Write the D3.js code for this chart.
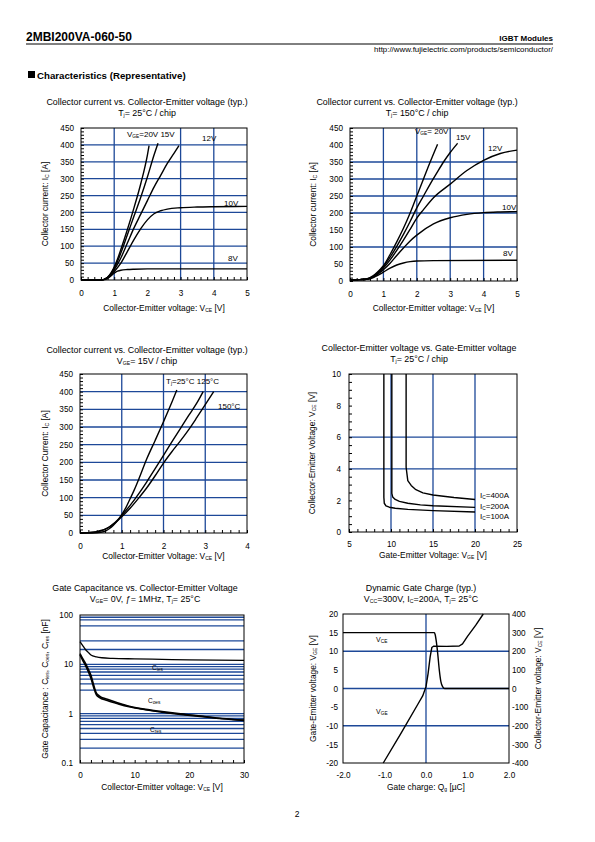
<!DOCTYPE html>
<html><head><meta charset="utf-8">
<script src="https://cdn.jsdelivr.net/npm/d3@7/dist/d3.min.js"></script>
<style>
body{margin:0;background:#fff}
svg{display:block}
text{font-family:"Liberation Sans",Arial,Helvetica,sans-serif;fill:#000}
</style>
</head><body>
<svg id="page" width="595" height="842"></svg>
<script>
// ---------------- DATA ----------------
// Chart 1: Ic vs Vce, Tj=25°C (x: Vce [V], y: Ic [A])
const c1_vge20 = [[0,0],[0.6,0],[0.7,2],[0.8,8],[0.9,20],[1.0,38],[1.1,62],[1.2,90],[1.4,150],[1.6,215],[1.8,285],[2.0,370],[2.05,398]];
const c1_vge15 = [[0,0],[0.6,0],[0.7,2],[0.8,8],[0.9,19],[1.0,35],[1.1,55],[1.2,80],[1.4,135],[1.6,190],[1.8,245],[2.0,305],[2.2,370],[2.32,405]];
const c1_vge12 = [[0,0],[0.6,0],[0.7,2],[0.8,7],[0.9,17],[1.0,30],[1.2,65],[1.4,110],[1.6,155],[1.8,195],[2.0,235],[2.2,275],[2.4,310],[2.6,345],[2.8,375],[2.95,398]];
const c1_vge10 = [[0,0],[0.6,0],[0.7,2],[0.8,6],[0.9,14],[1.0,25],[1.2,50],[1.4,85],[1.6,120],[1.8,152],[2.0,178],[2.2,196],[2.4,205],[2.6,210],[3.0,214],[3.5,216],[4.0,217],[5.0,218]];
const c1_vge8  = [[0,0],[0.6,0],[0.7,1],[0.8,5],[0.9,12],[1.0,20],[1.1,26],[1.2,29],[1.4,31],[1.6,32],[2.0,33],[5.0,33]];
const c1_xTicks = [0,1,2,3,4,5];
const c1_yTicks = [0,50,100,150,200,250,300,350,400,450];

// Chart 2: Ic vs Vce, Tj=150°C
const c2_vge20 = [[0,3],[0.3,4],[0.5,6],[0.6,10],[0.7,16],[0.8,24],[0.9,34],[1.0,45],[1.2,78],[1.4,115],[1.6,155],[1.8,200],[2.0,250],[2.2,300],[2.4,350],[2.62,402]];
const c2_vge15 = [[0,3],[0.3,4],[0.5,6],[0.6,9],[0.7,14],[0.8,22],[0.9,31],[1.0,42],[1.2,70],[1.4,102],[1.6,137],[1.8,175],[2.0,215],[2.2,250],[2.4,285],[2.6,318],[2.8,350],[3.0,378],[3.22,405]];
const c2_vge12 = [[0,3],[0.3,4],[0.5,5],[0.7,13],[0.8,20],[0.9,28],[1.0,38],[1.2,62],[1.4,90],[1.6,120],[1.8,152],[2.0,185],[2.2,210],[2.5,245],[3.0,285],[3.5,325],[4.0,355],[4.5,375],[5.0,385]];
const c2_vge10 = [[0,3],[0.3,4],[0.5,5],[0.7,12],[0.8,18],[0.9,25],[1.0,33],[1.2,52],[1.4,75],[1.6,97],[1.8,118],[2.0,135],[2.5,168],[3.0,186],[3.5,196],[4.0,201],[4.5,203],[5.0,204]];
const c2_vge8  = [[0,3],[0.3,4],[0.5,5],[0.7,10],[0.8,15],[0.9,20],[1.0,26],[1.2,38],[1.4,47],[1.6,53],[1.8,57],[2.0,59],[2.5,60],[5.0,61]];
const c2_xTicks = [0,1,2,3,4,5];
const c2_yTicks = [0,50,100,150,200,250,300,350,400,450];

// Chart 3: Ic vs Vce, Vge=15V
const c3_tj25  = [[0,0],[0.3,0],[0.5,2],[0.6,5],[0.7,12],[0.8,22],[0.9,35],[1.0,52],[1.1,72],[1.2,97],[1.3,122],[1.4,150],[1.6,210],[1.8,262],[2.0,315],[2.2,370],[2.32,405]];
const c3_tj125 = [[0,0],[0.2,1],[0.4,3],[0.5,6],[0.6,10],[0.7,17],[0.8,26],[0.9,37],[1.0,50],[1.2,78],[1.4,110],[1.6,145],[1.8,182],[2.0,220],[2.2,258],[2.4,295],[2.6,332],[2.8,368],[2.95,400]];
const c3_tj150 = [[0,0],[0.2,1],[0.4,4],[0.5,7],[0.6,11],[0.7,17],[0.8,25],[0.9,35],[1.0,46],[1.2,70],[1.4,98],[1.6,128],[1.8,162],[2.0,198],[2.2,230],[2.4,260],[2.6,292],[2.8,327],[3.0,363],[3.2,400]];
const c3_xTicks = [0,1,2,3,4];
const c3_yTicks = [0,50,100,150,200,250,300,350,400,450];

// Chart 4: Vce vs Vge, Tj=25°C
const c4_ic100 = [[9.15,10],[9.15,2.2],[9.2,1.82],[9.4,1.66],[9.8,1.57],[10.5,1.5],[12,1.43],[15,1.35],[20,1.27]];
const c4_ic200 = [[10.1,10],[10.1,2.45],[10.2,2.22],[10.5,2.06],[11,1.94],[12,1.82],[13.5,1.72],[15,1.66],[20,1.56]];
const c4_ic400 = [[11.8,10],[11.8,4.1],[12.0,3.25],[12.4,2.95],[12.9,2.7],[13.8,2.48],[15,2.34],[17.5,2.18],[20,2.06]];
const c4_xTicks = [5,10,15,20,25];
const c4_yTicks = [0,2,4,6,8,10];

// Chart 5: Capacitance vs Vce (log y)
const c5_cies = [[0,29],[0.5,24],[1,20],[1.5,17.5],[2,15.5],[3,14.2],[4,13.6],[6,13.2],[10,12.9],[15,12.6],[20,12.3],[30,12.0]];
const c5_coes = [[0,16.5],[0.5,13],[1,10.5],[1.5,8],[2,6],[2.5,3.8],[3,2.6],[3.5,2.3],[5,1.95],[7,1.65],[9,1.42],[12,1.22],[15,1.1],[18,1.0],[22,0.9],[26,0.8],[30,0.74]];
const c5_cres = [[0,15.5],[0.5,12],[1,9.5],[1.5,7.2],[2,5.2],[2.5,3.4],[3,2.4],[3.5,2.15],[5,1.85],[7,1.58],[9,1.38],[12,1.2],[15,1.07],[18,0.98],[22,0.88],[26,0.79],[30,0.73]];
const c5_xTicks = [0,10,20,30];
const c5_yTicks = [0.1,1,10,100];
const c5_hGrid = [0.2,0.3,0.4,0.5,0.6,0.7,0.8,0.9,1,3,4,5,6,7,8,9,10,20,30,60,80,90];

// Chart 6: Dynamic gate charge (x: Qg [µC], left: Vge [V], right: Vce [V])
const c6_vge = [[-1.03,-20],[-0.6,-12],[-0.2,-4.3],[-0.08,-2],[0.0,0.5],[0.05,4],[0.1,8.5],[0.14,11],[0.18,11.35],[0.5,11.3],[0.8,11.4],[0.88,12],[1.0,14],[1.2,17],[1.38,20]];
const c6_vce = [[-2.0,300],[0.2,300],[0.22,290],[0.25,250],[0.28,193],[0.32,100],[0.36,35],[0.4,10],[0.45,0],[2.0,0]];
const c6_xTicks = [-2,-1,0,1,2];
const c6_yTicks = [-20,-15,-10,-5,0,5,10,15,20];
const c6_yRTicks = [-400,-300,-200,-100,0,100,200,300,400];

// ---------------- DRAWING ----------------
const svg = d3.select("#page");
const GRID = "#1d4898";
const TICK_FS = 8.2, TITLE_FS = 8.9, AXIS_FS = 8.4, NOTE_FS = 8;
const hy = s => String(s).replace(/\u2212/g, "-");

function rich(sel, str, sub) {
  const parts = str.split(/(_\{[^}]*\})/);
  let shifted = false;
  parts.forEach(p => {
    if (!p) return;
    const m = p.match(/^_\{([^}]*)\}$/);
    if (m) {
      sel.append("tspan").attr("font-size", sub).attr("dy", 1.3).text(m[1]);
      shifted = true;
    } else {
      const t = sel.append("tspan").text(p);
      if (shifted) { t.attr("dy", -1.3); shifted = false; }
    }
  });
  return sel;
}

function txt(x, y, str, size, anchor, opts = {}) {
  const t = svg.append("text").attr("x", x).attr("y", y)
    .attr("font-size", size).attr("text-anchor", anchor || "start");
  if (opts.bold) t.attr("font-weight", "bold");
  if (opts.rot) t.attr("transform", `rotate(-90,${x},${y})`);
  return rich(t, str, opts.sub || size * 0.6);
}

function chart(c) {
  const g = svg.append("g");
  const x = d3.scaleLinear().domain(c.xDomain).range([c.left, c.right]);
  const y = (c.log ? d3.scaleLog() : d3.scaleLinear()).domain(c.yDomain).range([c.bottom, c.top]);

  // grid
  g.selectAll(null).data(c.vGrid || []).join("line")
    .attr("x1", d => x(d)).attr("x2", d => x(d)).attr("y1", c.top).attr("y2", c.bottom)
    .attr("stroke", GRID).attr("stroke-width", 1.3);
  g.selectAll(null).data(c.hGrid || []).join("line")
    .attr("y1", d => y(d)).attr("y2", d => y(d)).attr("x1", c.left).attr("x2", c.right)
    .attr("stroke", GRID).attr("stroke-width", 1.3);

  // inward ticks
  if (c.xMinor) {
    const ax = g.append("g").attr("transform", `translate(0,${c.bottom})`)
      .call(d3.axisBottom(x).tickValues(c.xMinor).tickSize(-3).tickFormat(""));
    ax.select(".domain").remove();
    ax.selectAll("line").attr("stroke", "#000").attr("stroke-width", 1);
  }
  if (c.yMinor) {
    const ay = g.append("g").attr("transform", `translate(${c.left},0)`)
      .call(d3.axisLeft(y).tickValues(c.yMinor).tickSize(-3).tickFormat(""));
    ay.select(".domain").remove();
    ay.selectAll("line").attr("stroke", "#000").attr("stroke-width", 1);
  }

  // tick labels
  const fx = c.xFmt || (d => d), fy = c.yFmt || (d => d);
  const axB = g.append("g").attr("transform", `translate(0,${c.bottom})`)
    .call(d3.axisBottom(x).tickValues(c.xTicks).tickSize(0).tickPadding(c.xPad || 8).tickFormat(d => hy(fx(d))));
  axB.select(".domain").remove();
  axB.selectAll("text").attr("font-size", TICK_FS).attr("font-family", null).attr("fill", "#000");
  const axL = g.append("g").attr("transform", `translate(${c.left},0)`)
    .call(d3.axisLeft(y).tickValues(c.yTicks).tickSize(0).tickPadding(c.yPad || 7).tickFormat(d => hy(fy(d))));
  axL.select(".domain").remove();
  axL.selectAll("text").attr("font-size", TICK_FS).attr("font-family", null).attr("fill", "#000");
  if (c.yRDomain) {
    const yR = d3.scaleLinear().domain(c.yRDomain).range([c.bottom, c.top]);
    const axR = g.append("g").attr("transform", `translate(${c.right},0)`)
      .call(d3.axisRight(yR).tickValues(c.yRTicks).tickSize(0).tickPadding(3).tickFormat(d => hy(d)));
    axR.select(".domain").remove();
    axR.selectAll("text").attr("font-size", TICK_FS).attr("font-family", null).attr("fill", "#000");
    c.yR = yR;
  }

  // frame
  g.append("rect").attr("x", c.left).attr("y", c.top)
    .attr("width", c.right - c.left).attr("height", c.bottom - c.top)
    .attr("fill", "none").attr("stroke", "#000").attr("stroke-width", 1);

  // curves
  (c.series || []).forEach(s => {
    const ys = s.right ? c.yR : y;
    const line = d3.line().x(d => x(d[0])).y(d => ys(d[1])).curve(s.curve || d3.curveMonotoneX);
    g.append("path").attr("d", line(s.data)).attr("fill", "none")
      .attr("stroke", s.color || "#000").attr("stroke-width", s.w || 1.4)
      .attr("stroke-linejoin", "round");
  });

  // titles
  txt(c.tx, c.t1y, c.title1, TITLE_FS, "middle");
  txt(c.tx, c.t1y + 11, c.title2, TITLE_FS, "middle", {sub: 5.2});
  txt((c.left + c.right) / 2, c.xly, c.xLabel, AXIS_FS, "middle", {sub: 5});
  txt(c.ylx, (c.top + c.bottom) / 2, c.yLabel, AXIS_FS, "middle", {rot: true, sub: 5});
  if (c.yRLabel) txt(c.yrlx, (c.top + c.bottom) / 2, c.yRLabel, AXIS_FS, "middle", {rot: true, sub: 5});
  (c.notes || []).forEach(n => txt(n[0], n[1], n[2], n[3] || NOTE_FS, "start", {sub: 4.8}));
}

const range = (a, b, s) => d3.range(a, b + s / 2, s);

// header
txt(26, 41, "2MBI200VA-060-50", 12, "start", {bold: true});
svg.append("line").attr("x1", 26).attr("x2", 553).attr("y1", 44).attr("y2", 44).attr("stroke", "#000").attr("stroke-width", 1);
txt(553, 41, "IGBT Modules", 8, "end", {bold: true});
txt(553, 52, "http://www.fujielectric.com/products/semiconductor/", 7.9, "end");
svg.append("rect").attr("x", 28).attr("y", 71).attr("width", 7).attr("height", 7).attr("fill", "#000");
txt(37, 79, "Characteristics (Representative)", 9.7, "start", {bold: true});
txt(297, 817, "2", 8.5, "middle");

chart({
  left: 81, right: 247, top: 128, bottom: 280,
  xDomain: [0, 5], yDomain: [0, 450], xTicks: c1_xTicks, yTicks: c1_yTicks,
  vGrid: [1, 3, 4], hGrid: [50, 100, 150, 200, 250, 300, 350, 400],
  xMinor: range(0, 5, 0.2), yMinor: range(0, 450, 10),
  tx: 147, t1y: 105, title1: "Collector current vs. Collector-Emitter voltage (typ.)",
  title2: "T_{j}= 25°C / chip",
  xly: 311, xLabel: "Collector-Emitter voltage: V_{CE} [V]",
  ylx: 48, yLabel: "Collector current: I_{C} [A]",
  xPad: 10, yPad: 7,
  series: [{data: c1_vge20}, {data: c1_vge15}, {data: c1_vge12}, {data: c1_vge10}, {data: c1_vge8}],
  notes: [[127, 137, "V_{GE}=20V 15V"], [202, 141, "12V"], [224, 206, "10V"], [228, 261, "8V"]]
});

chart({
  left: 350, right: 517, top: 128, bottom: 281,
  xDomain: [0, 5], yDomain: [0, 450], xTicks: c2_xTicks, yTicks: c2_yTicks,
  vGrid: [1, 2, 3, 4], hGrid: [100, 200, 250, 300, 350],
  xMinor: range(0, 5, 0.2), yMinor: range(0, 450, 10),
  tx: 417, t1y: 104.5, title1: "Collector current vs. Collector-Emitter voltage (typ.)",
  title2: "T_{j}= 150°C / chip",
  xly: 311, xLabel: "Collector-Emitter voltage: V_{CE} [V]",
  ylx: 316, yLabel: "Collector current: I_{C} [A]",
  xPad: 10, yPad: 7,
  series: [{data: c2_vge20}, {data: c2_vge15}, {data: c2_vge12}, {data: c2_vge10}, {data: c2_vge8}],
  notes: [[415, 134, "V_{GE}= 20V"], [456, 140, "15V"], [488, 151, "12V"], [502, 210, "10V"], [503, 256, "8V"]]
});

chart({
  left: 80, right: 247, top: 374, bottom: 533,
  xDomain: [0, 4], yDomain: [0, 450], xTicks: c3_xTicks, yTicks: c3_yTicks,
  vGrid: [1, 2, 3], hGrid: [50, 100, 150, 200, 250, 300, 350, 400],
  xMinor: range(0, 4, 0.2), yMinor: range(0, 450, 10),
  tx: 147, t1y: 352.5, title1: "Collector current vs. Collector-Emitter voltage (typ.)",
  title2: "V_{GE}= 15V / chip",
  xly: 558.5, xLabel: "Collector-Emitter Voltage: V_{CE} [V]",
  ylx: 48, yLabel: "Collector Current: I_{C} [A]",
  xPad: 10, yPad: 7,
  series: [{data: c3_tj25}, {data: c3_tj125}, {data: c3_tj150}],
  notes: [[166, 384, "T_{j}=25°C 125°C"], [218, 409, "150°C"]]
});

chart({
  left: 349, right: 517, top: 374, bottom: 532,
  xDomain: [5, 25], yDomain: [0, 10], xTicks: c4_xTicks, yTicks: c4_yTicks,
  vGrid: [10, 15, 20], hGrid: [4, 6],
  xMinor: range(5, 25, 1), yMinor: range(0, 10, 0.5),
  tx: 419, t1y: 350.5, title1: "Collector-Emitter voltage  vs. Gate-Emitter voltage",
  title2: "T_{j}= 25°C / chip",
  xly: 558, xLabel: "Gate-Emitter Voltage: V_{GE} [V]",
  ylx: 315, yLabel: "Collector-Emitter Voltage: V_{CE} [V]",
  xPad: 9, yPad: 8,
  series: [{data: c4_ic100, curve: d3.curveLinear}, {data: c4_ic200, curve: d3.curveLinear}, {data: c4_ic400, curve: d3.curveLinear}],
  notes: [[480, 498, "I_{C}=400A"], [480, 508.5, "I_{C}=200A"], [480, 519, "I_{C}=100A"]]
});

chart({
  left: 80, right: 244, top: 615, bottom: 763, log: true,
  xDomain: [0, 30], yDomain: [0.1, 100], xTicks: c5_xTicks, yTicks: c5_yTicks,
  hGrid: c5_hGrid, xMinor: range(0, 30, 2),
  yFmt: d => d >= 1 ? d3.format("d")(d) : d,
  tx: 145, t1y: 591, title1: "Gate Capacitance vs. Collector-Emitter Voltage",
  title2: "V_{GE}= 0V, \u0192= 1MHz, T_{j}= 25°C",
  xly: 789.5, xLabel: "Collector-Emitter voltage: V_{CE} [V]",
  ylx: 48, yLabel: "Gate Capacitance : C_{ies}, C_{oes}, C_{res} [nF]",
  xPad: 9, yPad: 7,
  series: [{data: c5_cies, w: 1.3}, {data: c5_coes, w: 1.6}, {data: c5_cres, w: 1.6}],
  notes: [[152, 670, "C_{ies}", 6.5], [148, 703, "C_{oes}", 6.5], [150, 732, "C_{res}", 6.5]]
});

chart({
  left: 343, right: 509, top: 614, bottom: 763,
  xDomain: [-2, 2], yDomain: [-20, 20], xTicks: c6_xTicks, yTicks: c6_yTicks,
  yRDomain: [-400, 400], yRTicks: c6_yRTicks,
  vGrid: [0], hGrid: [-10, 0, 10],
  xFmt: d3.format(".1f"),
  tx: 421, t1y: 591, title1: "Dynamic Gate Charge (typ.)",
  title2: "V_{CC}=300V, I_{C}=200A, T_{j}= 25°C",
  xly: 789.5, xLabel: "Gate charge: Q_{g} [µC]",
  ylx: 316, yLabel: "Gate-Emitter voltage: V_{GE} [V]",
  yrlx: 541, yRLabel: "Collector-Emitter voltage: V_{CE} [V]",
  xPad: 9, yPad: 5,
  series: [{data: c6_vge, curve: d3.curveLinear}, {data: c6_vce, right: true, curve: d3.curveMonotoneX}],
  notes: [[376, 642, "V_{CE}", 7], [376, 714, "V_{GE}", 7]]
});
</script>
</body></html>
